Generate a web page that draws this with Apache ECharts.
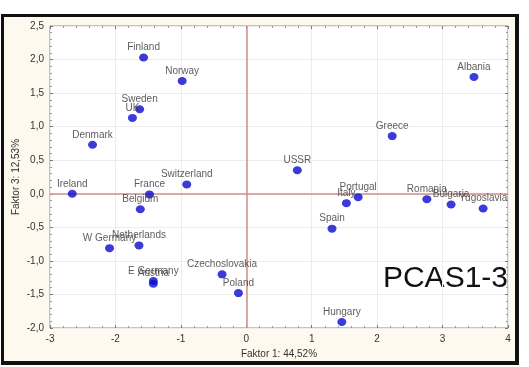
<!DOCTYPE html>
<html>
<head>
<meta charset="utf-8">
<script src="https://cdn.jsdelivr.net/npm/echarts@6/dist/echarts.min.js"></script>
<style>
  html, body { margin:0; padding:0; background:#ffffff; }
  #frame { position:absolute; left:1px; top:14px; width:511px; height:344px; border:3px solid #111; border-right-width:4px; border-bottom-width:4px; background:#fdf9ee; }
  #chart { position:absolute; left:0; top:0; width:529px; height:367px; }
</style>
</head>
<body>
<div id="frame"></div>
<div id="chart"></div>
<script>
const countries = ['Finland','Norway','Sweden','UK','Denmark','Switzerland','Ireland','France','Belgium','W Germany','Netherlands','E Germany','Austria','Czechoslovakia','Poland','Hungary','USSR','Portugal','Italy','Spain','Greece','Albania','Romania','Bulgaria','Yugoslavia'];
const factor1 = [-1.57,-0.98,-1.63,-1.74,-2.35,-0.91,-2.66,-1.48,-1.62,-2.09,-1.64,-1.42,-1.42,-0.37,-0.12,1.46,0.78,1.71,1.53,1.31,2.23,3.48,2.76,3.13,3.62];
const factor3 = [2.03,1.68,1.26,1.13,0.73,0.14,0.00,-0.01,-0.23,-0.81,-0.77,-1.30,-1.34,-1.20,-1.48,-1.91,0.35,-0.05,-0.14,-0.52,0.86,1.74,-0.08,-0.16,-0.22];
const xTitle = 'Faktor 1: 44,52%';
const yTitle = 'Faktor 3: 12,53%';
const tag = 'PCAS1-3';

const pts = countries.map((c,i)=>({name:c, value:[factor1[i], factor3[i]]}));
const font = 'Liberation Sans, Arial, sans-serif';
const chart = echarts.init(document.getElementById('chart'), null, {renderer:'canvas'});
const fmtY = v => v.toFixed(1).replace('.', ',');
const tickCommon = {
  axisLine:{show:false, onZero:false},
  axisTick:{show:true, inside:true, length:3, lineStyle:{color:'#777'}},
  minorTick:{show:true, splitNumber:5, length:2, lineStyle:{color:'#999'}}
};
chart.setOption({
  animation:false,
  backgroundColor:'transparent',
  grid:{left:50, top:26, width:458, height:302, show:true, backgroundColor:'#ffffff', borderColor:'#8a8a8a', borderWidth:1, containLabel:false, outerBoundsMode:'none'},
  xAxis:[Object.assign({
    type:'value', min:-3, max:4, interval:1,
    name:xTitle, nameLocation:'middle', nameGap:21,
    nameTextStyle:{fontFamily:font, fontSize:10, color:'#333'},
    axisLabel:{fontFamily:font, fontSize:10, color:'#333', margin:6},
    splitLine:{show:true, lineStyle:{color:'#ececec'}}
  }, tickCommon),Object.assign({
    type:'value', min:-3, max:4, interval:1, position:'top',
    axisLabel:{show:false},
    splitLine:{show:false}
  }, tickCommon)],
  yAxis:[Object.assign({
    type:'value', min:-2, max:2.5, interval:0.5,
    name:yTitle, nameLocation:'middle', nameGap:29, nameRotate:90, nameMoveOverlap:false,
    nameTextStyle:{fontFamily:font, fontSize:10, color:'#333'},
    axisLabel:{fontFamily:font, fontSize:10, color:'#333', margin:6, formatter:fmtY},
    splitLine:{show:true, lineStyle:{color:'#ececec'}}
  }, tickCommon),Object.assign({
    type:'value', min:-2, max:2.5, interval:0.5, position:'right',
    axisLabel:{show:false},
    splitLine:{show:false}
  }, tickCommon)],
  series:[{
    type:'scatter',
    data:pts,
    symbol:'circle',
    symbolSize:[9,8],
    itemStyle:{color:'#0a0ad0'},
    label:{show:true, position:'top', distance:1, formatter:'{b}', fontFamily:font, fontSize:10, color:'#333'},
    markLine:{
      silent:true, symbol:'none', label:{show:false},
      lineStyle:{color:'#cf8e8e', width:1.5, type:'solid'},
      data:[{xAxis:0},{yAxis:0}]
    },
    z:5
  }],
  graphic:[{
    type:'text', right:21, top:264,
    style:{text:tag, fontFamily:font, fontSize:30, fill:'#111'}
  }]
});
</script>
</body>
</html>
